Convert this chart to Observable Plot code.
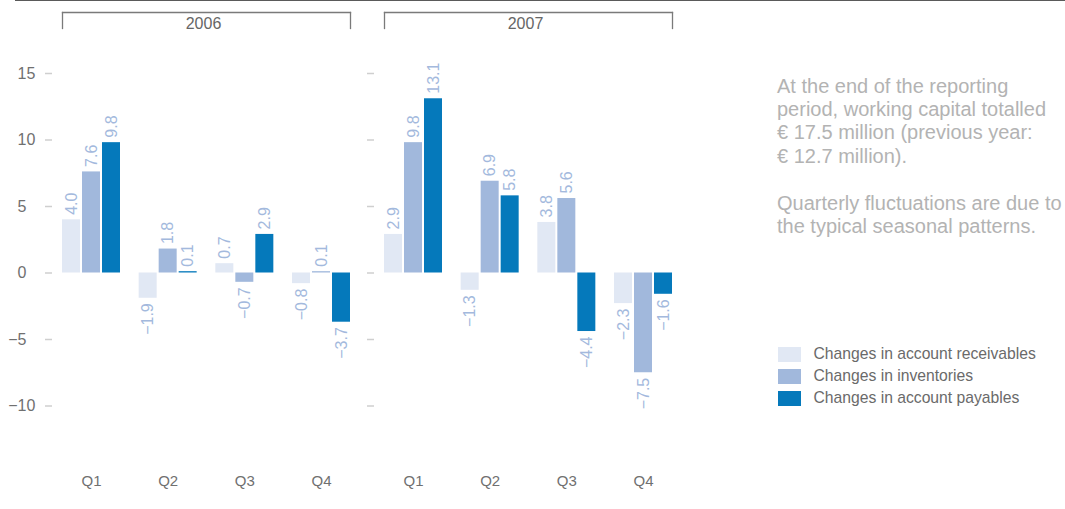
<!DOCTYPE html>
<html><head><meta charset="utf-8">
<script src="https://cdn.jsdelivr.net/npm/d3@7"></script>
<script src="https://cdn.jsdelivr.net/npm/@observablehq/plot@0.6"></script>
<style>
body{margin:0;background:#fff;font-family:"Liberation Sans",Arial,sans-serif;}
#wrap{position:relative;width:1065px;height:509px;overflow:hidden;background:#fff}
#topline{position:absolute;left:15px;right:0;top:0;height:0;border-top:1.5px solid #5a5a5a}
#note{position:absolute;left:777px;top:74.5px;font-size:20px;line-height:23.4px;color:#b3b3b3;white-space:nowrap}
#legend{position:absolute;left:778px;top:343px;font-size:15.7px;color:#6a6a6a}
.row{display:flex;align-items:center;height:22px;white-space:nowrap}
.sw{width:23px;height:15px;margin-right:12.5px;flex:none}
</style></head><body>
<div id="wrap"><div id="chart"></div><div id="topline"></div><div id="note"></div><div id="legend"></div></div>
<script>
const years = ["2006", "2007"];
const quarters = ["Q1", "Q2", "Q3", "Q4"];
const seriesNames = ["Changes in account receivables", "Changes in inventories", "Changes in account payables"];
const seriesColors = ["#e1e8f4", "#a1b8dc", "#0579bb"];
// values per year × quarter: 2006 Q1..Q4, 2007 Q1..Q4
const receivables = [4.0, -1.9, 0.7, -0.8, 2.9, -1.3, 3.8, -2.3];
const inventories = [7.6, 1.8, -0.7, 0.1, 9.8, 6.9, 5.6, -7.5];
const payables = [9.8, 0.1, 2.9, -3.7, 13.1, 5.8, -4.4, -1.6];
const yTicks = [-10, -5, 0, 5, 10, 15];
const noteLines = [
  "At the end of the reporting",
  "period, working capital totalled",
  "€ 17.5 million (previous year:",
  "€ 12.7 million).",
  "",
  "Quarterly fluctuations are due to",
  "the typical seasonal patterns."
];

const seriesValues = [receivables, inventories, payables];
const rows = [];
seriesValues.forEach((vals, s) => {
  years.forEach((yr, yi) => {
    quarters.forEach((q, qi) => {
      rows.push({s, year: yr, quarter: q, value: vals[yi * 4 + qi]});
    });
  });
});

const fmt = v => v.toFixed(1).replace("-", "\u2212");
const labelColor = "#a3b9dd";
const barW = 18, barGap = 2;
const W = 1065, H = 500, mL = 62, mR = 393, mT = 12, mB = 28;
const panelW = 288, panelStep = 322;
const groupW = 3 * barW + 2 * barGap;
const groupStep = (panelW - quarters.length * groupW) / (quarters.length - 1) + groupW;

const marks = [];
seriesValues.forEach((vals, i) => {
  const d = rows.filter(r => r.s === i);
  marks.push(Plot.barY(d, {
    fx: "year", x: "quarter", y: "value", fill: seriesColors[i],
    insetLeft: i * (barW + barGap), insetRight: (2 - i) * (barW + barGap)
  }));
  const off = (i - 1) * (barW + barGap);
  marks.push(Plot.text(d.filter(r => r.value >= 0), {
    fx: "year", x: "quarter", y: "value", text: r => fmt(r.value),
    rotate: -90, textAnchor: "start", dx: off, dy: -5, fill: labelColor, fontSize: 16
  }));
  marks.push(Plot.text(d.filter(r => r.value < 0), {
    fx: "year", x: "quarter", y: "value", text: r => fmt(r.value),
    rotate: -90, textAnchor: "end", dx: off, dy: 5, fill: labelColor, fontSize: 16
  }));
});

const frameH = H - mT - mB;
const legLen = 16;

const chart = Plot.plot({
  width: W, height: H,
  marginLeft: mL, marginRight: mR, marginTop: mT, marginBottom: mB,
  style: {fontFamily: "Liberation Sans, Arial, sans-serif", color: "#707070", background: "#fff"},
  fx: {domain: years, paddingInner: 1 - panelW / panelStep, paddingOuter: 0, axis: null},
  x: {domain: quarters, paddingInner: 1 - groupW / groupStep, paddingOuter: 0, round: false},
  y: {domain: [-15, 15], insetTop: 61},
  marks: [
    Plot.frame({anchor: "top", stroke: "#7a7a7a", strokeWidth: 1.3}),
    Plot.frame({anchor: "left", insetBottom: frameH - legLen, stroke: "#7a7a7a", strokeWidth: 1.3}),
    Plot.frame({anchor: "right", insetBottom: frameH - legLen, stroke: "#7a7a7a", strokeWidth: 1.3}),
    Plot.text(years, {fx: d => d, text: d => d, frameAnchor: "top", lineAnchor: "top", dy: 5.5, dx: -3, fontSize: 16, fill: "#666"}),
    Plot.axisX({tickSize: 0, tickPadding: 3, fontSize: 15, fill: "#707070", label: null}),
    Plot.axisY({ticks: yTicks, tickSize: 7, dx: -10, stroke: "#cfcfcf", strokeWidth: 1.5, fill: "none", label: null, facetAnchor: null}),
    Plot.axisY({ticks: yTicks, tickFormat: d => String(Math.abs(d)), textAnchor: "start", tickSize: 0, tickPadding: 45, fontSize: 16, fill: "#707070", label: null, facetAnchor: "left"}),
    Plot.axisY({ticks: yTicks.filter(t => t < 0), tickFormat: () => "\u2212", textAnchor: "end", tickSize: 0, tickPadding: 45, fontSize: 16, fill: "#707070", label: null, facetAnchor: "left"}),
    ...marks
  ]
});
document.getElementById("chart").appendChild(chart);

document.getElementById("note").innerHTML = noteLines.map(l => l === "" ? "&nbsp;" : l).join("<br>");
const leg = document.getElementById("legend");
seriesNames.forEach((n, i) => {
  const row = document.createElement("div");
  row.className = "row";
  row.innerHTML = `<div class="sw" style="background:${seriesColors[i]}"></div><span>${n}</span>`;
  leg.appendChild(row);
});
</script>
</body></html>
